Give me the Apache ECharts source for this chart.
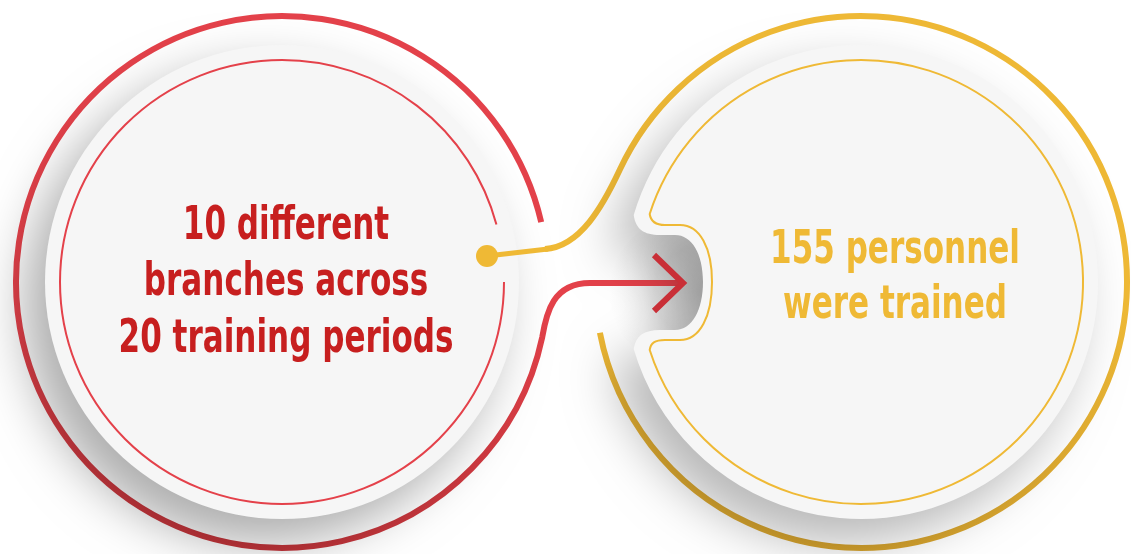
<!DOCTYPE html>
<html><head><meta charset="utf-8">
<script src="https://cdn.jsdelivr.net/npm/echarts@6/dist/echarts.min.js"></script>
<style>html,body{margin:0;padding:0;background:#fff}#main{width:1131px;height:554px}</style>
</head><body><div id="main"></div>
<script>
// ---- data ----
const statValues = [10, 20, 155];
const leftLines = [statValues[0] + ' different', 'branches across', statValues[1] + ' training periods'];
const rightLines = [statValues[2] + ' personnel', 'were trained'];
const panels = ['branches', 'personnel'];

// ---- styles / layout ----
const RED = '#e4414a', RED_DARK = '#c5353b', YEL = '#efb935', YEL_DARK = '#d7a42e';
const TXT_RED = '#c71f1f', TXT_YEL = '#efb935';
const C = [[282, 282], [861, 282]];
const R_OUT = 266, R_DISC = 237, R_THIN = 222;
const FONT = "'DejaVu Sans Condensed', 'Liberation Sans Narrow', 'Roboto', sans-serif";
const d2r = Math.PI / 180;
function pt(c, r, deg) { return [c[0] + r * Math.cos(deg * d2r), c[1] + r * Math.sin(deg * d2r)]; }
function f(p) { return p[0].toFixed(1) + ' ' + p[1].toFixed(1); }

function redRingPath() {
  const c = C[0], s = pt(c, R_OUT, -13), e = pt(c, R_OUT, 12);
  return `M ${f(s)} A ${R_OUT} ${R_OUT} 0 1 0 ${f(e)} C 546.4 312.6 553 283 590 283 L 682 283`;
}
function yelRingPath() {
  const c = C[1], s = pt(c, R_OUT, 205), e = pt(c, R_OUT, 169);
  return `M 545 249 C 580 247 ${(s[0] - 0.423 * 40).toFixed(1)} ${(s[1] + 0.906 * 40).toFixed(1)} ${f(s)} A ${R_OUT} ${R_OUT} 0 1 1 ${f(e)}`;
}
function rightDiscPath() {
  const c = C[1], r = R_DISC;
  const u = [c[0] - Math.sqrt(r * r - 67 * 67), 215], l = [u[0], 349];
  return `M ${f(u)} A ${r} ${r} 0 1 1 ${f(l)} C ${l[0] + 2} 336 ${l[0] + 10} 330 660 330 L 675 330 C 692 330 703 310 703 282 C 703 254 692 235 675 235 L 660 235 C ${u[0] + 10} 235 ${u[0] + 2} 229 ${f(u)} Z`;
}
function rightThinPath() {
  const c = C[1], r = R_THIN;
  const u = [c[0] - Math.sqrt(r * r - 68 * 68), 214], l = [u[0], 350];
  return `M ${f(u)} A ${r} ${r} 0 1 1 ${f(l)} C ${l[0] + 1} 343 ${l[0] + 5} 340 665 340 L 680 340 C 700 340 712 316 712 282 C 712 248 700 225 680 225 L 665 225 C ${u[0] + 5} 225 ${u[0] + 1} 221 ${f(u)} Z`;
}
const vGrad = (a, b) => new echarts.graphic.LinearGradient(0, 0, 0, 1, [{offset: 0, color: a}, {offset: 0.55, color: a}, {offset: 1, color: b}]);
const SHADOW = {shadowBlur: 50, shadowOffsetX: -20, shadowOffsetY: 24, shadowColor: 'rgba(0,0,0,0.32)'};
const TEXT_SCALE_X = 0.75, FONT_SIZE = 46;

function renderItem(params, api) {
  const i = params.dataIndex;
  const c = C[i];
  const children = [];
  if (i === 0) {
    children.push({type: 'path', z2: 10, shape: {pathData: redRingPath()},
      style: {fill: null, stroke: vGrad(RED, RED_DARK), lineWidth: 6, lineCap: 'butt'}});
    children.push({type: 'circle', z2: 20, shape: {cx: c[0], cy: c[1], r: R_DISC},
      style: Object.assign({fill: '#f6f6f6'}, SHADOW)});
    children.push({type: 'arc', z2: 30, shape: {cx: c[0], cy: c[1], r: R_THIN, startAngle: 0, endAngle: 345 * d2r, clockwise: true},
      style: {fill: null, stroke: RED, lineWidth: 2}});
    children.push({type: 'polyline', z2: 40, shape: {points: [[654, 255], [683, 283], [654, 311]]},
      style: {fill: null, stroke: '#c92f37', lineWidth: 6, lineJoin: 'miter'}});
    leftLines.forEach((t, k) => children.push({type: 'text', z2: 50, x: 286, y: 227 + k * 56.5, scaleX: TEXT_SCALE_X,
      style: {text: t, x: 0, y: 0, fill: TXT_RED, fontSize: FONT_SIZE, fontWeight: 'bold', fontFamily: FONT, align: 'center', verticalAlign: 'middle'}}));
  } else {
    children.push({type: 'circle', z2: 1, shape: {cx: 684, cy: 292, r: 75},
      style: {fill: new echarts.graphic.RadialGradient(0.6, 0.5, 0.6, [{offset: 0, color: '#d0d0d0'}, {offset: 0.5, color: '#e0e0e0'}, {offset: 1, color: 'rgba(240,240,240,0)'}])}});
    children.push({type: 'path', z2: 10, shape: {pathData: yelRingPath()},
      style: {fill: null, stroke: vGrad(YEL, YEL_DARK), lineWidth: 6, lineCap: 'butt'}});
    children.push({type: 'path', z2: 20, shape: {pathData: rightDiscPath()},
      style: Object.assign({fill: '#f6f6f6'}, SHADOW, {shadowColor: 'rgba(0,0,0,0.28)'})});
    children.push({type: 'path', z2: 30, shape: {pathData: rightThinPath()},
      style: {fill: null, stroke: YEL, lineWidth: 2}});
    children.push({type: 'line', z2: 40, shape: {x1: 487, y1: 256, x2: 548, y2: 249},
      style: {stroke: YEL, lineWidth: 5}});
    children.push({type: 'circle', z2: 41, shape: {cx: 487, cy: 256, r: 11}, style: {fill: YEL}});
    rightLines.forEach((t, k) => children.push({type: 'text', z2: 50, x: 895, y: 251 + k * 55, scaleX: TEXT_SCALE_X,
      style: {text: t, x: 0, y: 0, fill: TXT_YEL, fontSize: FONT_SIZE, fontWeight: 'bold', fontFamily: FONT, align: 'center', verticalAlign: 'middle'}}));
  }
  return {type: 'group', children};
}

const chart = echarts.init(document.getElementById('main'), null, {renderer: 'canvas'});
chart.setOption({
  animation: false,
  backgroundColor: '#ffffff',
  series: [{
    type: 'custom', coordinateSystem: 'none', renderItem,
    data: panels.map((p, i) => ({name: p, value: i}))
  }]
});
</script></body></html>
